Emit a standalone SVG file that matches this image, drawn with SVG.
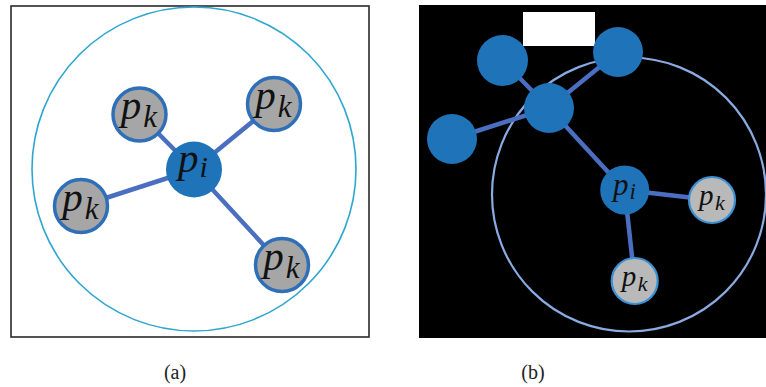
<svg xmlns="http://www.w3.org/2000/svg" width="766" height="387" viewBox="0 0 766 387">
<style>
.edge{stroke:#4a6fc1;stroke-width:4.5;stroke-linecap:round;fill:none}
.ka{fill:#a6a6a6;stroke:#2e6fb7;stroke-width:3.5}
.kb{fill:#b9b9b9;stroke:#3a90d4;stroke-width:2.2}
.bl{fill:#1f73b9}
.m{font-family:"Liberation Serif","Times New Roman",serif;font-style:italic;fill:#111;text-anchor:middle}
.cap{font-family:"Liberation Serif",serif;font-size:20px;fill:#222;text-anchor:middle}
</style>
<rect width="766" height="387" fill="#fff"/>
<g id="panel-a">
<rect x="11" y="6" width="358" height="331" fill="#fff" stroke="#2a2a2a" stroke-width="1.6"/>
<circle cx="194" cy="169" r="162" fill="none" stroke="#2fa6d0" stroke-width="1.6"/>
<g id="edges-a">
<line class="edge" x1="194" y1="169.5" x2="139.5" y2="114.5"/>
<line class="edge" x1="194" y1="169.5" x2="274" y2="104"/>
<line class="edge" x1="194" y1="169.5" x2="81" y2="206"/>
<line class="edge" x1="194" y1="169.5" x2="282" y2="265"/>
</g>
<g id="a-pi"><circle class="bl" cx="194" cy="169.5" r="28"/><text class="m" x="193" y="172" font-size="41">p<tspan font-size="30" dx="1" dy="5">i</tspan></text></g>
<g id="a-pk1"><circle class="ka" cx="139.5" cy="114.5" r="26.5"/><text class="m" x="139" y="119" font-size="41">p<tspan font-size="31" dx="2" dy="8">k</tspan></text></g>
<g id="a-pk2"><circle class="ka" cx="274" cy="104" r="26.5"/><text class="m" x="273.5" y="108.5" font-size="41">p<tspan font-size="31" dx="2" dy="8">k</tspan></text></g>
<g id="a-pk3"><circle class="ka" cx="81" cy="206" r="26.5"/><text class="m" x="80.5" y="210.5" font-size="41">p<tspan font-size="31" dx="2" dy="8">k</tspan></text></g>
<g id="a-pk4"><circle class="ka" cx="282" cy="265" r="26.5"/><text class="m" x="281.5" y="269.5" font-size="41">p<tspan font-size="31" dx="2" dy="8">k</tspan></text></g>
</g>
<g id="panel-b">
<rect x="419" y="5" width="347" height="333" fill="#000"/>
<rect x="523" y="12" width="72" height="34" fill="#fff"/>
<circle cx="629" cy="194.5" r="137" fill="none" stroke="#8aaae2" stroke-width="2.2"/>
<g id="edges-b">
<line class="edge" x1="502.5" y1="60.5" x2="549" y2="108"/>
<line class="edge" x1="618" y1="52" x2="549" y2="108"/>
<line class="edge" x1="452" y1="139" x2="549" y2="108"/>
<line class="edge" x1="549" y1="108" x2="624.7" y2="190"/>
<line class="edge" x1="624.7" y1="190" x2="712" y2="200"/>
<line class="edge" x1="624.7" y1="190" x2="634.7" y2="281"/>
</g>
<g id="b-n1"><circle class="bl" cx="502.5" cy="60.5" r="25.5"/></g>
<g id="b-n2"><circle class="bl" cx="618" cy="52" r="25"/></g>
<g id="b-n3"><circle class="bl" cx="549" cy="108" r="25"/></g>
<g id="b-n4"><circle class="bl" cx="452" cy="139" r="25"/></g>
<g id="b-pi"><circle class="bl" cx="624.7" cy="190" r="24.5"/><text class="m" x="624.5" y="195" font-size="31">p<tspan font-size="23" dx="1" dy="4">i</tspan></text></g>
<g id="b-pk1"><circle class="kb" cx="712" cy="200" r="23"/><text class="m" x="712" y="205" font-size="29">p<tspan font-size="22" dx="1.5" dy="5">k</tspan></text></g>
<g id="b-pk2"><circle class="kb" cx="634.7" cy="281" r="23"/><text class="m" x="634.7" y="286" font-size="29">p<tspan font-size="22" dx="1.5" dy="5">k</tspan></text></g>
</g>
<text class="cap" x="175" y="379">(a)</text>
<text class="cap" x="533" y="379">(b)</text>
</svg>
